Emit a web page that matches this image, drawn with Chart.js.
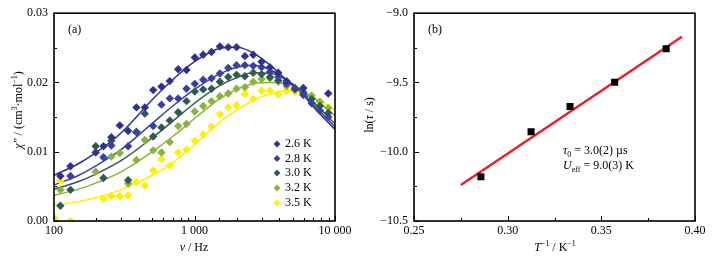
<!DOCTYPE html>
<html>
<head>
<meta charset="utf-8">
<script src="https://cdn.jsdelivr.net/npm/chart.js@4.4.0/dist/chart.umd.min.js"></script>
<style>
  html, body { margin: 0; padding: 0; background: #fff; }
  #wrap { position: relative; width: 714px; height: 262px; }
  .box { position: absolute; top: 0; width: 357px; height: 262px; }
</style>
</head>
<body>
<div id="wrap">
  <div class="box" style="left:0"><canvas id="chartA" width="357" height="262"></canvas></div>
  <div class="box" style="left:357px"><canvas id="chartB" width="357" height="262"></canvas></div>
</div>
<script>
// ---- panel (a): chi'' vs frequency ----
const freqHz = [101, 111, 131, 150, 172, 198, 225, 256, 294, 337, 386, 443, 508, 582, 667, 765, 877,
  1005, 1153, 1322, 1516, 1738, 1992, 2284, 2619, 3002, 3442, 3946, 4524, 5187, 5946, 6817, 7815, 8960];

const chi26 = [null, .0065, .0079, null, null, .0099, .0108, .0121, .0138, .0130, .0164, .0164, .0189, .0194, .0202, .0219, .0218,
  .0236, .0240, .0244, .0252, .0251, .0251, .0238, .0240, .0230, .0222, .0214, .0202, null, .0192, null, null, .0184];
const chi28 = [null, null, .0065, null, null, null, .0092, .0109, null, .0108, .0129, null, .0137, .0168, .0177, .0177, .0191,
  .0198, .0204, .0206, .0213, .0221, .0225, .0225, .0224, .0222, .0215, .0208, .0199, .0190, .0182, .0170, .0159, .0150];
const chi30 = [null, .0022, .0045, null, null, .0108, .0062, .0116, null, .0059, .0128, .0155, .0122, .0135, .0145, .0157, .0173,
  .0187, .0190, .0191, .0201, .0208, .0211, .0209, .0214, .0212, .0208, .0203, .0198, .0192, .0185, .0176, .0166, .0156];
const chi32 = [null, .0045, null, null, null, .0071, null, .0093, .0098, .0054, .0088, .0117, .0102, .0099, .0114, .0137, .0140,
  .0158, .0166, .0173, .0180, .0184, .0191, .0193, .0201, .0205, .0206, .0201, .0195, .0191, .0187, .0181, .0172, .0163];
const chi35 = [.0004, .0058, .0000, null, null, null, .0032, .0036, .0036, .0037, .0056, .0051, .0073, .0089, .0080, .0099, .0103,
  .0116, .0125, .0136, .0154, .0164, .0167, .0183, .0176, .0188, .0188, .0183, .0188, .0186, .0184, .0178, .0172, .0164];

// fitted curves
const fitHz = [100, 150, 200, 300, 500, 700, 1000, 1500, 2000, 2600, 3500, 4500, 5500, 7000, 10000];
const fit26 = [.0066, .0083, .0099, .0127, .0175, .0204, .0230, .0249, .0251, .0243, .0224, .0204, .0190, .0165, .0132];
const fit28 = [.0052, .0066, .0080, .0103, .0141, .0166, .0190, .0212, .0222, .0225, .0218, .0203, .0190, .0168, .0136];
const fit30 = [.0046, .0057, .0068, .0087, .0120, .0144, .0170, .0195, .0207, .0214, .0213, .0204, .0191, .0172, .0140];
const fit32 = [.0037, .0046, .0055, .0071, .0100, .0122, .0148, .0176, .0190, .0198, .0200, .0198, .0191, .0178, .0152];
const fit35 = [.0023, .0028, .0034, .0045, .0066, .0084, .0110, .0142, .0160, .0174, .0184, .0188, .0188, .0180, .0160];

const tempLabels = ['2.6 K', '2.8 K', '3.0 K', '3.2 K', '3.5 K'];
const tempColors = ['#2e3192', '#3a40a8', '#2f5a52', '#8cb33c', '#fff000'];

// ---- panel (b): Arrhenius plot ----
const invT = [0.2857, 0.3125, 0.3333, 0.3571, 0.3846];
const lnTau = [-10.18, -9.856, -9.673, -9.498, -9.257];
const fitInvT = [0.275, 0.393];
const fitLnTau = [-10.24, -9.17];

const FONT = '"Liberation Serif", "DejaVu Serif", serif';
Chart.defaults.font.family = FONT;
Chart.defaults.font.size = 12;
Chart.defaults.color = '#000';

function pts(xs, ys) {
  return xs.map((x, i) => ({ x: x, y: ys[i] })).filter(p => p.y !== null);
}

// draw text made of pieces: [text, flags] flags: i = italic, sup, sub
function rich(ctx, parts, x, y, align) {
  const fontOf = p => (p.i ? 'italic ' : '') + ((p.sup || p.sub) ? 8 : 12) + 'px ' + FONT;
  let total = 0;
  parts.forEach(p => { ctx.font = fontOf(p); total += ctx.measureText(p.t).width; });
  let cx = align === 'center' ? x - total / 2 : x;
  ctx.textAlign = 'left';
  ctx.textBaseline = 'middle';
  parts.forEach(p => {
    ctx.font = fontOf(p);
    const dy = p.sup ? -4 : p.sub ? 4 : 0;
    ctx.fillText(p.t, cx, y + dy);
    cx += ctx.measureText(p.t).width;
  });
}

function framePlugin(isMajorX, isMajorY) {
  return {
    id: 'frame',
    afterDatasetsDraw(chart) {
      const { ctx, chartArea: a, scales } = chart;
      ctx.save();
      ctx.strokeStyle = '#000';
      ctx.lineWidth = 1;
      ctx.beginPath();
      scales.x.ticks.forEach(t => {
        const px = Math.round(scales.x.getPixelForValue(t.value)) + 0.5;
        ctx.moveTo(px, a.bottom);
        ctx.lineTo(px, a.bottom - (isMajorX(t.value) ? 5 : 3));
      });
      scales.y.ticks.forEach(t => {
        const py = Math.round(scales.y.getPixelForValue(t.value)) + 0.5;
        ctx.moveTo(a.left, py);
        ctx.lineTo(a.left + (isMajorY(t.value) ? 5 : 3), py);
      });
      ctx.stroke();
      ctx.lineWidth = 1.6;
      ctx.strokeRect(a.left, a.top, a.right - a.left, a.bottom - a.top);
      ctx.restore();
    }
  };
}

function textPlugin(fn) {
  return { id: 'texts', afterDraw(chart) { chart.ctx.save(); chart.ctx.fillStyle = '#000'; fn(chart.ctx, chart); chart.ctx.restore(); } };
}

const isDecade = v => Math.abs(Math.log10(v) - Math.round(Math.log10(v))) < 1e-9;
const isStep = step => v => Math.abs(v / step - Math.round(v / step)) < 1e-6;

// ---------- chart A ----------
const chiSeries = [chi26, chi28, chi30, chi32, chi35];
const fitSeries = [fit26, fit28, fit30, fit32, fit35];

const datasetsA = [];
chiSeries.forEach((s, k) => {
  datasetsA.push({
    label: tempLabels[k],
    data: pts(freqHz, s),
    showLine: false,
    pointStyle: 'rectRot',
    pointRadius: 4.2,
    backgroundColor: tempColors[k],
    borderColor: tempColors[k],
    borderWidth: 0,
    order: 1
  });
});
fitSeries.forEach((s, k) => {
  datasetsA.push({
    label: tempLabels[k] + ' fit',
    data: pts(fitHz, s),
    showLine: true,
    pointRadius: 0,
    borderColor: tempColors[k],
    borderWidth: 1.5,
    cubicInterpolationMode: 'monotone',
    order: 2
  });
});

new Chart(document.getElementById('chartA'), {
  type: 'scatter',
  data: { datasets: datasetsA },
  options: {
    responsive: false,
    animation: false,
    layout: { padding: { top: 12, right: 22, left: 0, bottom: 0 } },
    plugins: { legend: { display: false }, tooltip: { enabled: false } },
    scales: {
      x: {
        type: 'logarithmic',
        min: 100,
        max: 10000,
        grid: { display: false, drawTicks: false },
        border: { display: false },
        afterFit: s => { s.height = 41; },
        ticks: {
          autoSkip: false,
          maxRotation: 0,
          padding: 3,
          callback: v => {
            if (!isDecade(v)) return '';
            return String(Math.round(v)).replace(/\B(?=(\d{3})+(?!\d))/g, ' ');
          }
        }
      },
      y: {
        min: 0,
        max: 0.03,
        grid: { display: false, drawTicks: false },
        border: { display: false },
        afterFit: s => { s.width = 54; },
        ticks: {
          stepSize: 0.005,
          padding: 6,
          callback: v => isStep(0.01)(v) ? v.toFixed(2) : ''
        }
      }
    }
  },
  plugins: [
    framePlugin(isDecade, isStep(0.01)),
    textPlugin((ctx, chart) => {
      rich(ctx, [{ t: '(a)' }], 68, 30, 'left');
      rich(ctx, [{ t: 'ν', i: true }, { t: ' / Hz' }], 194, 248, 'center');
      ctx.save();
      ctx.translate(19, 110);
      ctx.rotate(-Math.PI / 2);
      rich(ctx, [{ t: 'χ\'\'', i: true }, { t: ' / (cm' }, { t: '3', sup: true }, { t: '·mol' }, { t: '−1', sup: true }, { t: ')' }], 0, 0, 'center');
      ctx.restore();
      // legend
      const rows = [144, 158.5, 173, 188, 203];
      tempLabels.forEach((lab, k) => {
        const x = 277, y = rows[k], r = 3.4;
        ctx.fillStyle = tempColors[k];
        ctx.beginPath();
        ctx.moveTo(x - r, y); ctx.lineTo(x, y - r); ctx.lineTo(x + r, y); ctx.lineTo(x, y + r);
        ctx.closePath();
        ctx.fill();
        ctx.fillStyle = '#000';
        rich(ctx, [{ t: lab }], 285, y, 'left');
      });
    })
  ]
});

// ---------- chart B ----------
new Chart(document.getElementById('chartB'), {
  type: 'scatter',
  data: {
    datasets: [
      {
        label: 'ln tau',
        data: pts(invT, lnTau),
        showLine: false,
        pointStyle: 'rect',
        pointRadius: 5,
        backgroundColor: '#000',
        borderColor: '#000',
        borderWidth: 0,
        order: 1
      },
      {
        label: 'fit',
        data: pts(fitInvT, fitLnTau),
        showLine: true,
        pointRadius: 0,
        borderColor: '#e8212b',
        borderWidth: 2.5,
        order: 2
      }
    ]
  },
  options: {
    responsive: false,
    animation: false,
    layout: { padding: { top: 13, right: 19, left: 0, bottom: 0 } },
    plugins: { legend: { display: false }, tooltip: { enabled: false } },
    scales: {
      x: {
        min: 0.25,
        max: 0.40,
        grid: { display: false, drawTicks: false },
        border: { display: false },
        afterFit: s => { s.height = 41; },
        ticks: {
          stepSize: 0.025,
          autoSkip: false,
          maxRotation: 0,
          padding: 3,
          callback: v => isStep(0.05)(v) ? v.toFixed(2) : ''
        }
      },
      y: {
        min: -10.5,
        max: -9.0,
        grid: { display: false, drawTicks: false },
        border: { display: false },
        afterFit: s => { s.width = 57; },
        ticks: {
          stepSize: 0.25,
          padding: 6,
          callback: v => isStep(0.5)(v) ? '−' + Math.abs(v).toFixed(1) : ''
        }
      }
    }
  },
  plugins: [
    framePlugin(isStep(0.05), isStep(0.5)),
    textPlugin((ctx, chart) => {
      rich(ctx, [{ t: '(b)' }], 71, 30, 'left');
      rich(ctx, [{ t: 'T', i: true }, { t: '−1', sup: true }, { t: ' / K' }, { t: '−1', sup: true }], 198, 248, 'center');
      ctx.save();
      ctx.translate(13, 115);
      ctx.rotate(-Math.PI / 2);
      rich(ctx, [{ t: 'ln(' }, { t: 'τ', i: true }, { t: ' / s)' }], 0, 0, 'center');
      ctx.restore();
      rich(ctx, [{ t: 'τ', i: true }, { t: '0', sub: true }, { t: ' = 3.0(2) µs' }], 206, 151, 'left');
      rich(ctx, [{ t: 'U', i: true }, { t: 'eff', sub: true }, { t: ' = 9.0(3) K' }], 206, 166, 'left');
    })
  ]
});
</script>
</body>
</html>
